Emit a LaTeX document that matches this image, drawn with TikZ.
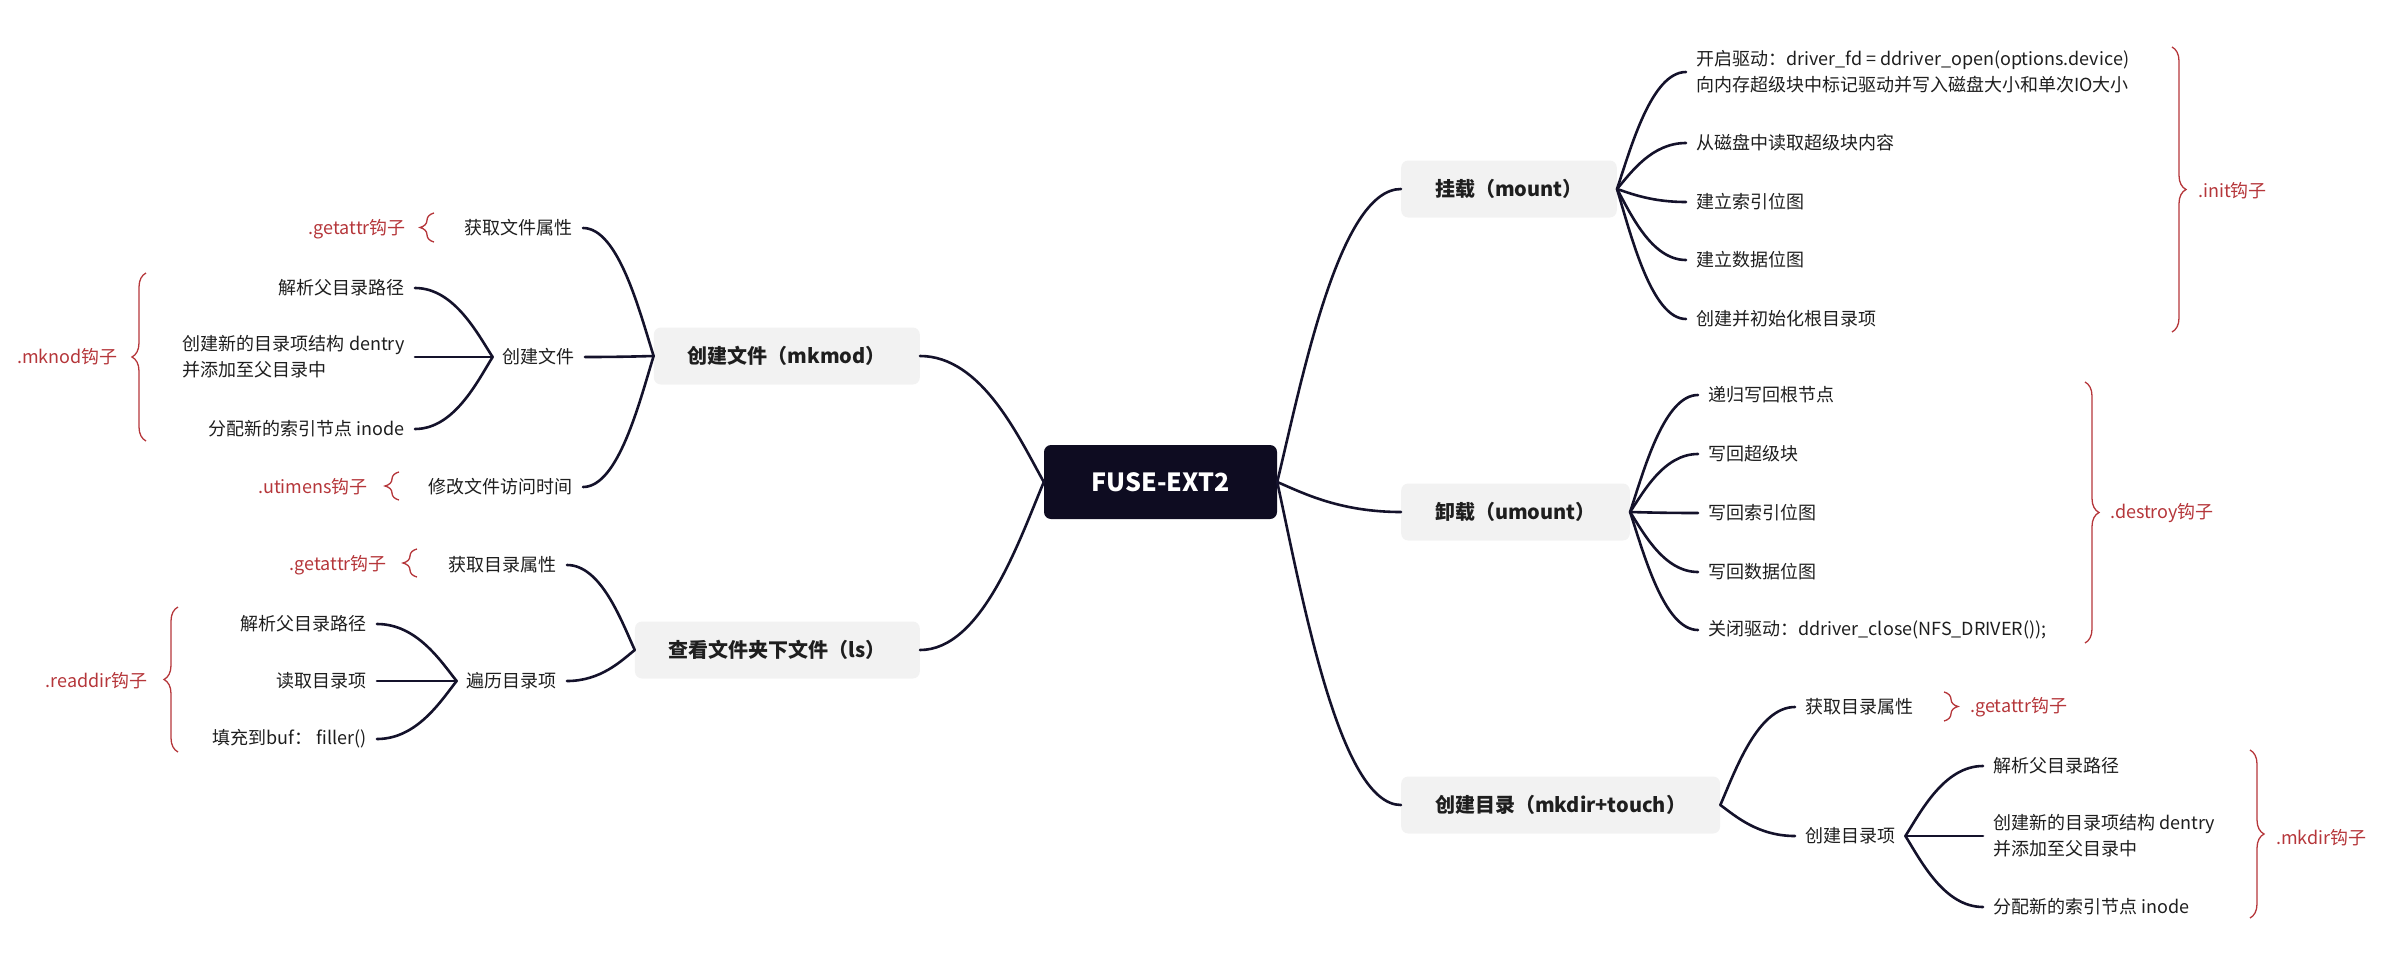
\documentclass[tikz,border=0pt]{standalone}
\usepackage{fontspec}
\setmainfont{Noto Sans CJK SC}
\usetikzlibrary{calc,decorations.pathreplacing}
\definecolor{rootfill}{HTML}{0E0C21}
\definecolor{linec}{HTML}{14122B}
\definecolor{topicfill}{HTML}{F2F2F2}
\definecolor{hookred}{HTML}{B5363A}
\definecolor{leaftext}{HTML}{1E1E1E}
\tikzset{
  root/.style={fill=rootfill, rounded corners=7pt, text=white, font=\bfseries\fontsize{25}{30}\selectfont, minimum width=233pt, minimum height=74pt},
  topic/.style={fill=topicfill, rounded corners=7pt, text=leaftext, font=\bfseries\fontsize{20}{24}\selectfont, inner xsep=34pt, minimum height=57pt},
  leaf/.style={text=leaftext, font=\fontsize{18}{26}\selectfont, inner xsep=10pt, inner ysep=3pt, align=left},
  hook/.style={text=hookred, font=\fontsize{18}{22}\selectfont, inner sep=0pt},
  hookbrace/.style={draw=hookred, line width=1.3pt, decorate, decoration={brace, amplitude=14pt}},
  branch/.style={draw=linec, line width=2.6pt, line cap=round,
    to path={let \p1=(\tikztostart), \p2=(\tikztotarget) in
      .. controls ({\x1+0.2*(\x2-\x1)},{\y1+0.35*(\y2-\y1)}) and ({\x1+0.5*(\x2-\x1)},\y2) .. (\tikztotarget)}}
}
\begin{document}
\begin{tikzpicture}[x=1pt,y=-1pt]
    \useasboundingbox (0,0) rectangle (2391,969);
    \node[root] (root) at (1160.5,482) {FUSE-EXT2};
    %rami principali
    \node[topic, anchor=west] (mount) at (1401,189) {挂载（mount）};
    \node[topic, anchor=west] (umount) at (1401,512) {卸载（umount）};
    \node[topic, anchor=west] (mkdir) at (1401,805) {创建目录（mkdir+touch）};
    \node[topic, anchor=east] (mkmod) at (920,356) {创建文件（mkmod）};
    \node[topic, anchor=east] (ls) at (920,650) {查看文件夹下文件（ls）};
    \draw[branch] (root.east) to (mount.west);
    \draw[branch] (root.east) to (umount.west);
    \draw[branch] (root.east) to (mkdir.west);
    \draw[branch] (root.west) to (mkmod.east);
    \draw[branch] (root.west) to (ls.east);
    %mount
    \node[leaf, anchor=west] (open) at (1686,72) {开启驱动：driver\_fd = ddriver\_open(options.device)\\向内存超级块中标记驱动并写入磁盘大小和单次IO大小};
    \node[leaf, anchor=west] (readsb) at (1686,143) {从磁盘中读取超级块内容};
    \node[leaf, anchor=west] (inomap) at (1686,202) {建立索引位图};
    \node[leaf, anchor=west] (datamap) at (1686,260) {建立数据位图};
    \node[leaf, anchor=west] (rootdir) at (1686,319) {创建并初始化根目录项};
    \foreach \k in {open,readsb,inomap,datamap,rootdir}
        \draw[branch] (mount.east) to (\k.west);
    \draw[hookbrace] (2172,47) -- (2172,332);
    \node[hook, anchor=west] (init) at (2198,191) {.init钩子};
    %umount
    \node[leaf, anchor=west] (wbroot) at (1698,395) {递归写回根节点};
    \node[leaf, anchor=west] (wbsb) at (1698,454) {写回超级块};
    \node[leaf, anchor=west] (wbino) at (1698,513) {写回索引位图};
    \node[leaf, anchor=west] (wbdata) at (1698,572) {写回数据位图};
    \node[leaf, anchor=west] (close) at (1698,630) {关闭驱动：ddriver\_close(NFS\_DRIVER());};
    \foreach \k in {wbroot,wbsb,wbino,wbdata,close}
        \draw[branch] (umount.east) to (\k.west);
    \draw[hookbrace] (2085,382) -- (2085,643);
    \node[hook, anchor=west] (destroy) at (2110,513) {.destroy钩子};
    %mkdir
    \node[leaf, anchor=west] (dgetattr) at (1795,707) {获取目录属性};
    \node[leaf, anchor=west] (newent) at (1795,836) {创建目录项};
    \draw[branch] (mkdir.east) to (dgetattr.west);
    \draw[branch] (mkdir.east) to (newent.west);
    \draw[hookbrace] (1944,692) -- (1944,721);
    \node[hook, anchor=west] (dgetattrhook) at (1970,707) {.getattr钩子};
    \node[leaf, anchor=west] (dparse) at (1983,766) {解析父目录路径};
    \node[leaf, anchor=west] (ddentry) at (1983,836) {创建新的目录项结构 dentry\\并添加至父目录中};
    \node[leaf, anchor=west] (dinode) at (1983,907) {分配新的索引节点 inode};
    \foreach \k in {dparse,ddentry,dinode}
        \draw[branch] (newent.east) to (\k.west);
    \draw[hookbrace] (2250,750) -- (2250,918);
    \node[hook, anchor=west] (mkdirhook) at (2276,838) {.mkdir钩子};
    %mkmod
    \node[leaf, anchor=east] (fgetattr) at (583,228) {获取文件属性};
    \node[leaf, anchor=east] (newfile) at (585,357) {创建文件};
    \node[leaf, anchor=east] (futime) at (583,487) {修改文件访问时间};
    \foreach \k in {fgetattr,newfile,futime}
        \draw[branch] (mkmod.west) to (\k.east);
    \draw[hookbrace] (434,242) -- (434,213);
    \node[hook, anchor=east] (fgetattrhook) at (406,229) {.getattr钩子};
    \draw[hookbrace] (399,500) -- (399,472);
    \node[hook, anchor=east] (utimenshook) at (368,487) {.utimens钩子};
    \node[leaf, anchor=east] (fparse) at (415,288) {解析父目录路径};
    \node[leaf, anchor=east] (fdentry) at (415,357) {创建新的目录项结构 dentry\\并添加至父目录中};
    \node[leaf, anchor=east] (finode) at (415,429) {分配新的索引节点 inode};
    \foreach \k in {fparse,fdentry,finode}
        \draw[branch] (newfile.west) to (\k.east);
    \draw[hookbrace] (146,441) -- (146,273);
    \node[hook, anchor=east] (mknodhook) at (118,357) {.mknod钩子};
    %ls
    \node[leaf, anchor=east] (lgetattr) at (567,565) {获取目录属性};
    \node[leaf, anchor=east] (walk) at (567,681) {遍历目录项};
    \foreach \k in {lgetattr,walk}
        \draw[branch] (ls.west) to (\k.east);
    \draw[hookbrace] (417,577) -- (417,549);
    \node[hook, anchor=east] (lgetattrhook) at (387,565) {.getattr钩子};
    \node[leaf, anchor=east] (lparse) at (377,624) {解析父目录路径};
    \node[leaf, anchor=east] (lread) at (377,681) {读取目录项};
    \node[leaf, anchor=east] (lfill) at (377,739) {填充到buf： filler()};
    \foreach \k in {lparse,lread,lfill}
        \draw[branch] (walk.west) to (\k.east);
    \draw[hookbrace] (178,752) -- (178,607);
    \node[hook, anchor=east] (readdirhook) at (148,681) {.readdir钩子};
\end{tikzpicture}
\end{document}
